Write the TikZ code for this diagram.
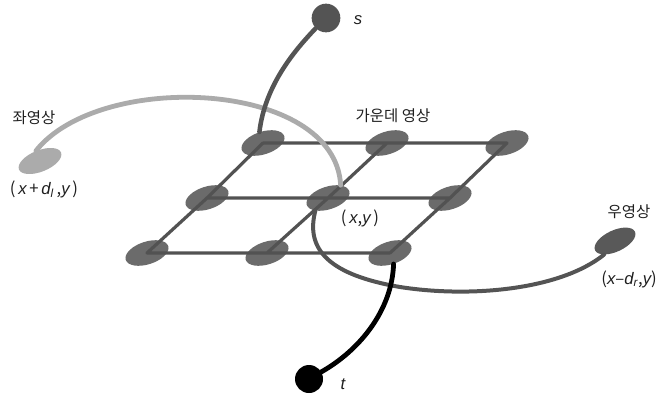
\documentclass[tikz,border=0pt]{standalone}
\usepackage{fontspec}
\setmainfont{Noto Sans CJK KR}
\newfontfamily\lsans{Liberation Sans}
\usetikzlibrary{shapes.geometric}
\newcommand{\iv}[1]{{\lsans\itshape #1}}

\begin{document}
\begin{tikzpicture}[x=0.75pt,y=-0.75pt,line cap=round,
  cell/.style={ellipse,fill=black!58,minimum width=33.5pt,minimum height=17pt,inner sep=0pt,rotate=18},
  lbl/.style={font=\fontsize{11.6}{13}\selectfont,text=black!88,inner sep=0pt},
  xylbl/.style={lbl,font=\fontsize{12.5}{14}\selectfont}]
  \useasboundingbox (0,0) rectangle (659,395);
  \clip (0,0) rectangle (659,395);
  % centre image: 3x3 grid of pixels
  \node[cell] (a1) at (263,143) {};
  \node[cell] (a2) at (387,143) {};
  \node[cell] (a3) at (507,143) {};
  \node[cell] (b1) at (207,198) {};
  \node[cell] (b2) at (328,198) {};
  \node[cell] (b3) at (450,198) {};
  \node[cell] (c1) at (147,253) {};
  \node[cell] (c2) at (267,253) {};
  \node[cell] (c3) at (390,253) {};
  \draw[black!68,line width=2.4pt] (a1.center)--(a2.center)--(a3.center)
    (b1.center)--(b2.center)--(b3.center) (c1.center)--(c2.center)--(c3.center)
    (a1.center)--(b1.center)--(c1.center) (a2.center)--(b2.center)--(c2.center)
    (a3.center)--(b3.center)--(c3.center);
  % left and right images, source and sink
  \node[ellipse,fill=black!33,minimum width=34pt,minimum height=16pt,inner sep=0pt,rotate=22] (limg) at (40,161) {};
  \node[ellipse,fill=black!65,minimum width=33pt,minimum height=16pt,inner sep=0pt,rotate=25] (rimg) at (615,241) {};
  \node[circle,fill=black!67,minimum size=21.5pt,inner sep=0pt] (s) at (326,18) {};
  \node[circle,fill=black,minimum size=21pt,inner sep=0pt] (t) at (309,379) {};
  % links
  \draw[black!33,line width=3.6pt] (limg.north) .. controls (100,70) and (335,80) .. (b2.north east);
  \draw[black!67,line width=3pt] (b2.south west) .. controls (305,250) and (330,275) .. (400,287)
    .. controls (470,298) and (560,290) .. (rimg.south west);
  \draw[black!67,line width=3.4pt] (s.south west) .. controls (295,50) and (265,85) .. (a1.north);
  \draw[black,line width=3.6pt] (t.30) .. controls (360,350) and (392,310) .. (c3.south);
  % labels
  \node[xylbl] (ls) at (358,20) {\iv{s}};
  \node[xylbl] (lt) at (343,384) {\iv{t}};
  \node[lbl] (lleft) at (34,118) {좌영상};
  \node[lbl] (lmid) at (393,116) {가운데 영상};
  \node[lbl] (lright) at (629,212) {우영상};
  \node[xylbl] (pleft) at (44,189) {(\,\iv{x}\,+\,\iv{d}\textsubscript{\iv{l}}\,,\iv{y}\,)};
  \node[xylbl] (pmid) at (360,218) {(\,\iv{x},\iv{y}\,)};
  \node[xylbl,anchor=east] (pright) at (657,279) {(\iv{x}–\iv{d}\textsubscript{\iv{r}},\iv{y})};
\end{tikzpicture}
\end{document}
